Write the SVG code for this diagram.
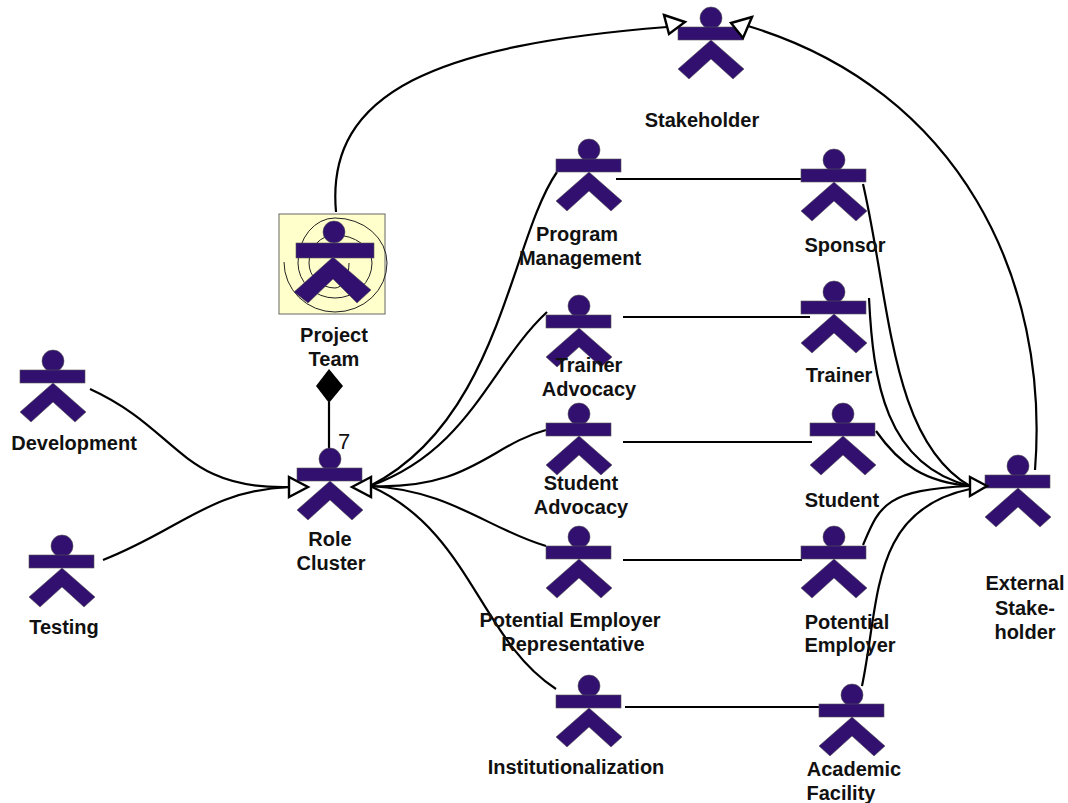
<svg xmlns="http://www.w3.org/2000/svg" width="1068" height="803" viewBox="0 0 1068 803">
<style>
text{font-family:"Liberation Sans",Arial,sans-serif;font-size:20px;font-weight:bold;fill:#111;text-anchor:middle}
.c{fill:none;stroke:#000;stroke-width:2.2}
.a{fill:#31106f;stroke:#555;stroke-width:.6}
.h{fill:#fff;stroke:#000;stroke-width:2.4}
.s{fill:none;stroke:#222;stroke-width:1}
</style>
<defs>
<g id="actor">
<circle class="a" cx="0" cy="0" r="11"/>
<rect class="a" x="-33" y="9" width="65" height="13"/>
<polygon class="a" points="0,22 33,51 22,61 0,41 -22,61 -33,51"/>
</g>
</defs>
<g id="connectors">
<path class="c" d="M336 212C325 90 440 45 667 27"/>
<path class="c" d="M1035 470C1050 280 960 90 748 26"/>
<path class="c" d="M616 179H804"/>
<path class="c" d="M623 317H810"/>
<path class="c" d="M623 442H812"/>
<path class="c" d="M623 560H802"/>
<path class="c" d="M625 707H820"/>
<path class="c" d="M557 172C510 240 500 420 370 486"/>
<path class="c" d="M547 312C490 365 470 450 370 486"/>
<path class="c" d="M546 430C490 445 470 490 370 486"/>
<path class="c" d="M546 546C490 530 450 490 370 486"/>
<path class="c" d="M556 689C480 640 470 530 370 486"/>
<path class="c" d="M90 389C180 430 180 490 290 487"/>
<path class="c" d="M103 560C180 530 210 490 290 487"/>
<path class="c" d="M863 184C890 300 890 440 970 486"/>
<path class="c" d="M869 298C873 380 885 465 970 486"/>
<path class="c" d="M876 431C900 465 925 482 970 486"/>
<path class="c" d="M863 545C880 505 885 490 970 486"/>
<path class="c" d="M862 686C880 600 870 510 970 489"/>
<path class="c" d="M329 402V450"/>
<polygon points="329,369 343,386 329,403 316,386" fill="#000"/>
</g>
<g id="stakeholder"><use href="#actor" x="711" y="18"/><text x="702" y="127">Stakeholder</text></g>
<g id="project-team">
<rect x="279" y="214" width="106" height="100" fill="#ffffcc" stroke="#666" stroke-width="1"/>
<path class="s" d="M284 262A51 50 0 0 0 335 312A52 49 0 0 0 387 263A52 45 0 0 0 335 218A37 45 0 0 0 298 263A37 35 0 0 0 335 298A37 35 0 0 0 372 263A37 28 0 0 0 335 235A26 28 0 0 0 309 263A26 25 0 0 0 335 288A14 25 0 0 0 349 263"/>
<circle class="a" cx="334" cy="232" r="11"/>
<rect class="a" x="296" y="243" width="78" height="15"/>
<polygon class="a" points="333,257 371,290 357,303 333,279 308,303 294,292"/>
<text x="334" y="342">Project</text><text x="334" y="366">Team</text>
</g>
<g id="program-management"><use href="#actor" x="589" y="150"/><text x="577" y="241">Program</text><text x="580" y="265">Management</text></g>
<g id="sponsor"><use href="#actor" x="834" y="160"/><text x="845" y="252">Sponsor</text></g>
<g id="trainer-advocacy"><use href="#actor" x="579" y="306"/><text x="589" y="372">Trainer</text><text x="589" y="396">Advocacy</text></g>
<g id="trainer"><use href="#actor" x="834" y="292"/><text x="839" y="382">Trainer</text></g>
<g id="student-advocacy"><use href="#actor" x="579" y="414"/><text x="581" y="490">Student</text><text x="581" y="514">Advocacy</text></g>
<g id="student"><use href="#actor" x="843" y="414"/><text x="842" y="507">Student</text></g>
<g id="potential-employer-representative"><use href="#actor" x="579" y="537"/><text x="570" y="627">Potential Employer</text><text x="573" y="651">Representative</text></g>
<g id="potential-employer"><use href="#actor" x="834" y="537"/><text x="847" y="629">Potential</text><text x="850" y="652">Employer</text></g>
<g id="institutionalization"><use href="#actor" x="589" y="686"/><text x="576" y="774">Institutionalization</text></g>
<g id="academic-facility"><use href="#actor" x="852" y="695"/><text x="854" y="776">Academic</text><text x="841" y="800">Facility</text></g>
<g id="external-stakeholder"><use href="#actor" x="1018" y="466"/><text x="1025" y="590">External</text><text x="1025" y="615">Stake-</text><text x="1025" y="639">holder</text></g>
<g id="role-cluster"><use href="#actor" x="330" y="459"/><text x="330" y="546">Role</text><text x="331" y="570">Cluster</text><text x="344" y="449" style="font-weight:normal;font-size:22px">7</text></g>
<g id="development"><use href="#actor" x="53" y="361"/><text x="74" y="450">Development</text></g>
<g id="testing"><use href="#actor" x="62" y="546"/><text x="64" y="634">Testing</text></g>
<g id="arrowheads">
<polygon class="h" points="664,15 685,22 669,34"/>
<polygon class="h" points="752,17 731,23 743,38"/>
<polygon class="h" points="289,477 308,487 289,497"/>
<polygon class="h" points="371,477 352,487 371,497"/>
<polygon class="h" points="970,477 987,486 970,496"/>
</g>
</svg>
